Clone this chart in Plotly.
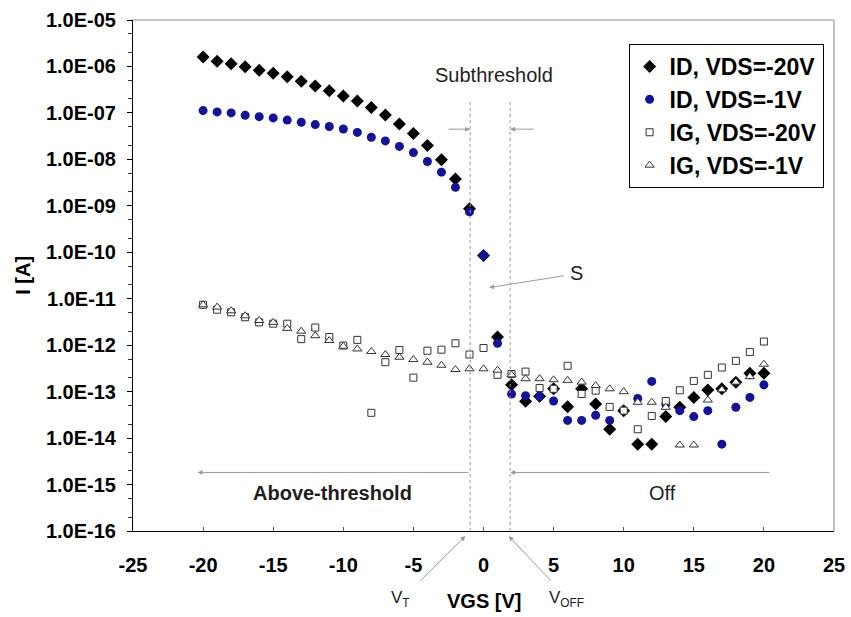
import plotly.graph_objects as go

# ---------------- data ----------------
vgs = list(range(-20, 21))

id_vds20 = [1.6e-6, 1.3e-6, 1.15e-6, 9.8e-7, 8.3e-7, 7.1e-7, 6.0e-7, 4.8e-7, 3.8e-7, 3.0e-7,
            2.3e-7, 1.8e-7, 1.3e-7, 9.0e-8, 5.8e-8, 3.6e-8, 2.0e-8, 9.8e-9, 3.8e-9, 8.7e-10,
            8.5e-11, 1.5e-12, 1.4e-13, 6.2e-14, 8.0e-14, 1.15e-13, 4.7e-14, 1.15e-13, 5.4e-14, 1.55e-14,
            3.9e-14, 7.4e-15, 7.4e-15, 2.9e-14, 4.6e-14, 7.5e-14, 1.08e-13, 1.15e-13, 1.6e-13, 2.5e-13,
            2.5e-13]
id_vds1 = [1.12e-7, 1.05e-7, 1.0e-7, 8.9e-8, 8.3e-8, 7.8e-8, 7.0e-8, 6.3e-8, 5.6e-8, 5.1e-8,
           4.5e-8, 3.8e-8, 3.0e-8, 2.5e-8, 1.9e-8, 1.4e-8, 9.0e-9, 5.3e-9, 2.5e-9, 7.4e-10,
           8.5e-11, 1.1e-12, 8.9e-14, 8.2e-14, 8.0e-14, 6.3e-14, 2.4e-14, 2.4e-14, 3.1e-14, 2.4e-14,
           None, 7.1e-14, 1.66e-13, 5.4e-14, 3.9e-14, 2.9e-14, 3.9e-14, 7.4e-15, 4.6e-14, 7.5e-14,
           1.4e-13]
ig_vds20 = [7.4e-12, 5.8e-12, 5.1e-12, 4.0e-12, 3.1e-12, 2.9e-12, 2.9e-12, 1.35e-12, 2.4e-12, 1.5e-12,
            9.8e-13, 1.3e-12, 3.5e-14, 4.3e-13, 7.9e-13, 2.0e-13, 7.6e-13, 8.0e-13, 1.1e-12, 6.3e-13,
            8.7e-13, 2.3e-13, 2.4e-13, 2.7e-13, 1.2e-13, 1.15e-13, 3.6e-13, 8.9e-14, 1.05e-13, 4.7e-14,
            3.9e-14, 1.55e-14, 3.0e-14, 6.3e-14, 1.07e-13, 1.7e-13, 2.3e-13, 3.3e-13, 4.6e-13, 7.1e-13,
            1.2e-12]
ig_vds1 = [7.4e-12, 6.6e-12, 5.5e-12, 4.3e-12, 3.4e-12, 3.1e-12, 2.3e-12, 2.0e-12, 1.6e-12, 1.26e-12,
           9.5e-13, 8.3e-13, 7.3e-13, 6.3e-13, 5.5e-13, 4.9e-13, 4.3e-13, 3.7e-13, 3.0e-13, 3.1e-13,
           3.1e-13, 2.9e-13, 2.3e-13, 1.9e-13, 1.9e-13, 1.8e-13, 1.75e-13, 1.6e-13, 1.35e-13, 1.15e-13,
           1.0e-13, 5.9e-14, 5.9e-14, 4.6e-14, 7.1e-15, 7.1e-15, 6.6e-14, 1.1e-13, 1.6e-13, 2.1e-13,
           3.9e-13]

series_names = ["ID, VDS=-20V", "ID, VDS=-1V", "IG, VDS=-20V", "IG, VDS=-1V"]

y_exponents = list(range(-16, -4))
y_tickvals = [10.0 ** e for e in y_exponents]
y_ticktext = ["1.0E-%02d" % (-e) for e in y_exponents]
x_tickvals = [-25, -20, -15, -10, -5, 0, 5, 10, 15, 20, 25]
x_ticktext = [str(v) for v in x_tickvals]

# region boundaries (V) and guide levels (log10 A)
v_t = -0.95
v_off = 1.9
Y_LO, Y_HI = -16, -5

FONT = "Liberation Sans, Arial, sans-serif"
YD = "y domain"


def py(logv):
    return (logv - Y_LO) / (Y_HI - Y_LO)


fig = go.Figure()
fig.add_trace(go.Scatter(x=vgs, y=id_vds20, mode="markers", name=series_names[0], legendgroup="a",
                         marker=dict(symbol="diamond", size=10, color="black")))
fig.add_trace(go.Scatter(x=vgs, y=id_vds1, mode="markers", name=series_names[1], legendgroup="b",
                         marker=dict(symbol="circle", size=9, color="#12129c")))
fig.add_trace(go.Scatter(x=vgs, y=ig_vds20, mode="markers", name=series_names[2], legendgroup="c",
                         marker=dict(symbol="square", size=7, color="white",
                                     line=dict(color="#333333", width=1))))
fig.add_trace(go.Scatter(x=vgs, y=ig_vds1, mode="markers", name=series_names[3], legendgroup="d",
                         marker=dict(symbol="triangle-up", size=8, color="white",
                                     line=dict(color="#333333", width=1))))

guide = dict(color="#9a9aa6", width=1, dash="dot")
shapes = [
    dict(type="line", xref="paper", yref="paper", x0=0, x1=1, y0=1, y1=1, line=dict(color="#888888", width=1)),
    dict(type="line", xref="paper", yref="paper", x0=1, x1=1, y0=0, y1=1, line=dict(color="#888888", width=1)),
    dict(type="line", xref="x", yref="paper", x0=v_t, x1=v_t, y0=0, y1=py(-6.75), line=guide),
    dict(type="line", xref="x", yref="paper", x0=v_off, x1=v_off, y0=0, y1=py(-6.75), line=guide),
]
fig.update_layout(shapes=shapes)

ann = []


def arrow(x_head, y_head, x_tail, y_tail):
    ann.append(dict(x=x_head, y=y_head, ax=x_tail, ay=y_tail, xref="x", yref=YD,
                    axref="x", ayref=YD, showarrow=True, arrowhead=2, arrowsize=1,
                    arrowwidth=1, arrowcolor="#9a9aa6", text=""))


arrow(v_t, py(-7.35), -2.6, py(-7.35))
arrow(v_off, py(-7.35), 3.7, py(-7.35))
arrow(-20.4, py(-14.74), v_t, py(-14.74))
arrow(v_off, py(-14.74), 20.5, py(-14.74))
arrow(0.4, py(-10.76), 5.85, py(-10.50))
arrow(-1.3, -0.01, -4.6, -0.10)
arrow(1.8, -0.01, 4.9, -0.10)

text_font = dict(family=FONT, size=20, color="#1e1e1e")
mid = dict(xanchor="center", yanchor="middle", showarrow=False)
ann += [
    dict(x=0.75, y=py(-6.19), xref="x", yref="paper", text="Subthreshold", font=text_font, **mid),
    dict(x=-10.8, y=0.074, xref="x", yref="paper", text="Above-threshold",
         font=dict(family=FONT, size=20, color="#1e1e1e", weight="bold"), **mid),
    dict(x=12.8, y=0.074, xref="x", yref="paper", text="Off", font=text_font, **mid),
    dict(x=6.65, y=py(-10.44), xref="x", yref="paper", text="S", font=text_font, **mid),
    dict(x=-5.9, y=-0.133, xref="x", yref="paper", text="V<sub>T</sub>",
         font=dict(family=FONT, size=17, color="#1e1e1e"), **mid),
    dict(x=5.9, y=-0.133, xref="x", yref="paper", text="V<sub>OFF</sub>",
         font=dict(family=FONT, size=17, color="#1e1e1e"), **mid),
    dict(x=0, y=-0.137, xref="x", yref="paper", text="<b>VGS [V]</b>",
         font=dict(family=FONT, size=20, color="black"), **mid),
    dict(x=-0.158, y=py(-10.5), xref="paper", yref="paper", text="<b>I [A]</b>",
         textangle=-90, font=dict(family=FONT, size=20, color="black"), **mid),
]
fig.update_layout(annotations=ann)

fig.update_xaxes(range=[-25, 25], tickvals=x_tickvals, ticktext=x_ticktext, automargin=False,
                 showgrid=False, zeroline=False, showline=True, linecolor="black", linewidth=1,
                 ticks="inside", ticklen=4, tickcolor="#555555",
                 tickfont=dict(family=FONT, size=20, color="black", weight="bold"),
                 ticklabelstandoff=16)
fig.update_yaxes(type="log", range=[Y_LO, Y_HI], tickvals=y_tickvals, ticktext=y_ticktext,
                 automargin=False,
                 showgrid=False, zeroline=False, showline=True, linecolor="black", linewidth=1,
                 ticks="outside", ticklen=5, tickcolor="black",
                 minor=dict(ticks="outside", ticklen=4, tickcolor="#333333", showgrid=False),
                 tickfont=dict(family=FONT, size=20, color="black", weight="bold"),
                 ticklabelstandoff=7)

fig.update_layout(
    width=851, height=617,
    margin=dict(l=133, r=17, t=20, b=86, autoexpand=False),
    paper_bgcolor="white", plot_bgcolor="white",
    showlegend=True,
    legend=dict(x=0.707, y=0.953, xanchor="left", yanchor="top",
                bgcolor="white", bordercolor="black", borderwidth=1,
                font=dict(family=FONT, size=23, color="black", weight="bold"),
                traceorder="grouped", tracegroupgap=0),
)

fig.write_html("out.html", config={"displayModeBar": False},
               post_script="document.body.style.margin='0';document.body.style.overflow='hidden';")
